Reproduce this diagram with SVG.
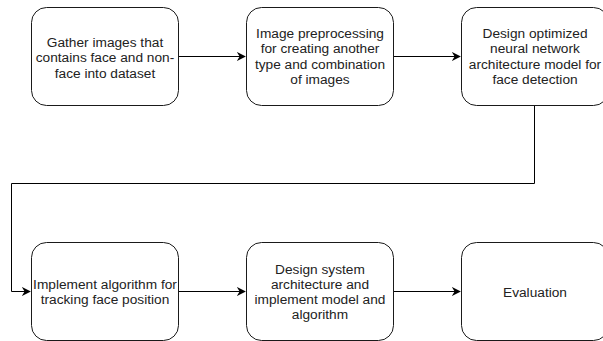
<svg xmlns="http://www.w3.org/2000/svg" width="603" height="341" viewBox="0 0 603 341">
  <defs>
    <marker id="arrow" viewBox="0 0 10 10" refX="9" refY="5" markerWidth="9" markerHeight="9" markerUnits="userSpaceOnUse" orient="auto">
      <path d="M0,0 L10,5 L0,10 L3,5 Z" fill="#000"/>
    </marker>
    <style>
      .box { fill: #fff; stroke: #1a1a1a; stroke-width: 1; }
      .lbl { font-family: "Liberation Sans", Arial, sans-serif; font-size: 13.7px; fill: #222; text-anchor: middle; }
      .edge { fill: none; stroke: #000; stroke-width: 1; marker-end: url(#arrow); }
    </style>
  </defs>
  <rect width="603" height="341" fill="#fff"/>

  <g id="connectors">
    <path class="edge" d="M178.5,56.5 H245"/>
    <path class="edge" d="M393.5,56.5 H460"/>
    <path class="edge" d="M534.5,105 V183.5 H11.5 V291.5 H30"/>
    <path class="edge" d="M178.5,291.5 H245"/>
    <path class="edge" d="M393.5,291.5 H460"/>
  </g>

  <g id="gather">
    <rect class="box" x="31.5" y="7.5" width="147" height="98" rx="15"/>
    <text class="lbl" x="105" y="46.5">Gather images that</text>
    <text class="lbl" x="105" y="62">contains face and non-</text>
    <text class="lbl" x="105" y="77.5">face into dataset</text>
  </g>

  <g id="preprocess">
    <rect class="box" x="246.5" y="7.5" width="147" height="98" rx="15"/>
    <text class="lbl" x="320" y="38">Image preprocessing</text>
    <text class="lbl" x="320" y="53.3">for creating another</text>
    <text class="lbl" x="320" y="68.6">type and combination</text>
    <text class="lbl" x="320" y="84">of images</text>
  </g>

  <g id="design-model">
    <rect class="box" x="461.5" y="7.5" width="147" height="98" rx="15"/>
    <text class="lbl" x="535" y="38">Design optimized</text>
    <text class="lbl" x="535" y="53.3">neural network</text>
    <text class="lbl" x="535" y="68.6">architecture model for</text>
    <text class="lbl" x="535" y="84">face detection</text>
  </g>

  <g id="tracking">
    <rect class="box" x="31.5" y="242.5" width="147" height="98" rx="15"/>
    <text class="lbl" x="105" y="288.5">Implement algorithm for</text>
    <text class="lbl" x="105" y="304">tracking face position</text>
  </g>

  <g id="design-system">
    <rect class="box" x="246.5" y="242.5" width="147" height="98" rx="15"/>
    <text class="lbl" x="320" y="273.5">Design system</text>
    <text class="lbl" x="320" y="288.8">architecture and</text>
    <text class="lbl" x="320" y="304.1">implement model and</text>
    <text class="lbl" x="320" y="319.4">algorithm</text>
  </g>

  <g id="evaluation">
    <rect class="box" x="461.5" y="242.5" width="147" height="98" rx="15"/>
    <text class="lbl" x="535" y="296.5">Evaluation</text>
  </g>
</svg>
